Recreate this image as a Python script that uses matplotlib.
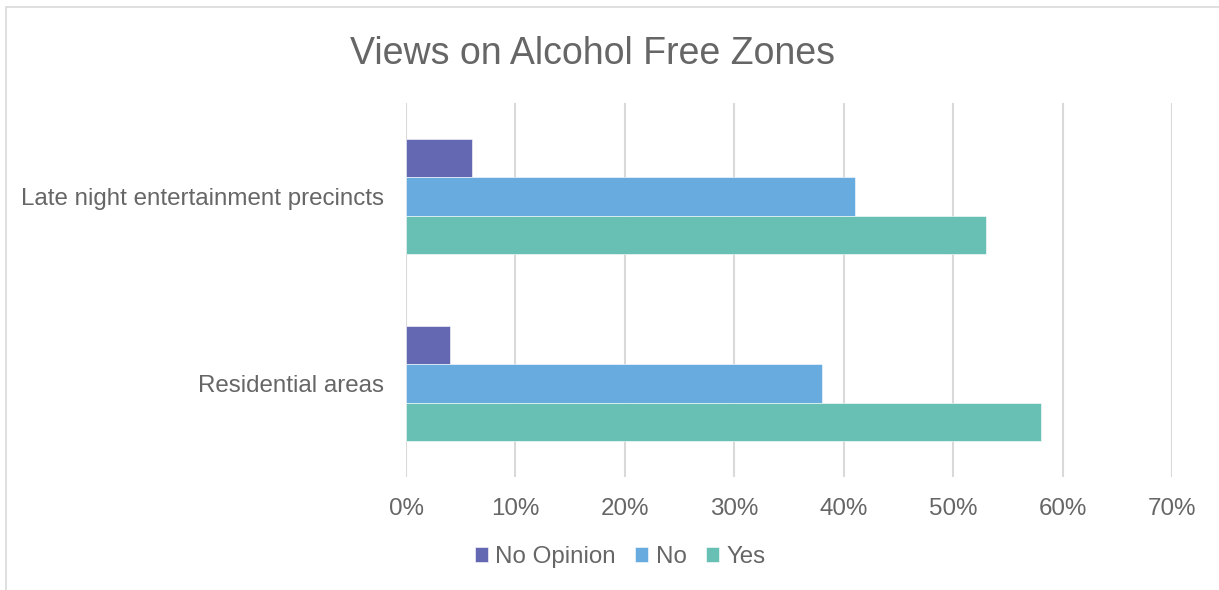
import matplotlib.pyplot as plt
from matplotlib.patches import Rectangle
import numpy as np

# data
categories = ["Late night entertainment precincts", "Residential areas"]
series_names = ["No Opinion", "No", "Yes"]
no_opinion = [6, 4]
no = [41, 38]
yes = [53, 58]
x_ticks = [0, 10, 20, 30, 40, 50, 60, 70]

colors = ["#6467b1", "#67abdf", "#68c0b4"]
TEXT = "#666666"
GRID = "#d9d9d9"

plt.rcParams["font.family"] = ["Liberation Sans", "DejaVu Sans"]

fig = plt.figure(figsize=(12.19, 5.9), dpi=100)
ax = fig.add_axes([406 / 1219, 1 - 477 / 590, (1172 - 406) / 1219, (477 - 103) / 590])

# light frame around chart area (top and left visible)
fig.patches.append(Rectangle((6 / 1219, -0.1), 1.2, 1.1 - 7 / 590,
                             transform=fig.transFigure, fill=False,
                             edgecolor=GRID, linewidth=1.2))

y = np.arange(len(categories))
h = 0.205
for i, (vals, name) in enumerate(zip([no_opinion, no, yes], series_names)):
    ax.barh(y + (i - 1) * h, vals, height=h, color=colors[i], label=name,
            edgecolor="white", linewidth=0.4, zorder=3)

ax.set_ylim(1.5, -0.5)
ax.set_xlim(0, 70)
ax.set_yticks(y)
ax.set_yticklabels(categories)
ax.set_xticks(x_ticks)
ax.set_xticklabels([f"{t}%" for t in x_ticks])
ax.tick_params(axis="both", length=0, labelsize=17.4, colors=TEXT)
ax.tick_params(axis="y", pad=16)
ax.tick_params(axis="x", pad=15)
ax.xaxis.grid(True, color=GRID, linewidth=1.5, zorder=0)
for s in ax.spines.values():
    s.set_visible(False)

fig.text(592 / 1219, 1 - 54 / 590, "Views on Alcohol Free Zones",
         ha="center", va="center", fontsize=27, color=TEXT)

fig.legend(loc="center", bbox_to_anchor=(620 / 1219, 1 - 557 / 590), ncol=3,
           frameon=False, fontsize=17.4, labelcolor=TEXT,
           handlelength=0.55, handleheight=0.55, handletextpad=0.3,
           columnspacing=0.8)

fig.savefig("out.png", dpi=100)
